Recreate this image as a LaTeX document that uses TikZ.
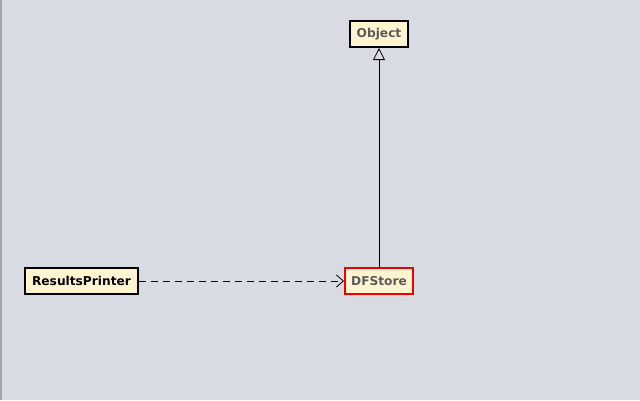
\documentclass[tikz,border=0pt]{standalone}
\usepackage{fontspec}
\setmainfont{DejaVu Sans}
\usetikzlibrary{arrows.meta}
\definecolor{canvas}{RGB}{216,219,226}
\definecolor{edgeline}{RGB}{160,163,176}
\definecolor{classfill}{RGB}{255,243,208}
\definecolor{dimtext}{RGB}{90,90,90}
\definecolor{focusred}{RGB}{238,0,0}
\tikzset{
  classbox/.style={draw=black, line width=2pt, fill=classfill, inner sep=0pt,
    font=\bfseries\fontsize{12.2}{14}\selectfont, anchor=center},
  extends/.style={draw=black, line width=0.8pt, -{Triangle[open, length=12pt, width=12pt]}},
  uses/.style={draw=black, line width=0.8pt, dash pattern=on 7pt off 5pt,
    -{Straight Barb[length=7pt, width=12pt, line width=0.8pt]}}
}
\begin{document}
\begin{tikzpicture}[x=1pt, y=-1pt]
  \fill[canvas] (0,0) rectangle (640,400);
  \useasboundingbox (0,0) rectangle (640,400);
  \draw[edgeline, line width=1.5pt] (0.75,0) -- (0.75,400);

  \node[classbox, minimum width=58pt, minimum height=26pt, text=dimtext] (object) at (379,34) {Object};
  \node[classbox, minimum width=113pt, minimum height=26pt, text=black] (printer) at (81.5,281) {ResultsPrinter};
  \node[classbox, draw=focusred, minimum width=68pt, minimum height=26pt, text=dimtext] (store) at (379,281) {DFStore};

  \draw[extends] (store.north) -- (object.south);
  \draw[uses] (printer.east) -- (store.west);
\end{tikzpicture}
\end{document}
